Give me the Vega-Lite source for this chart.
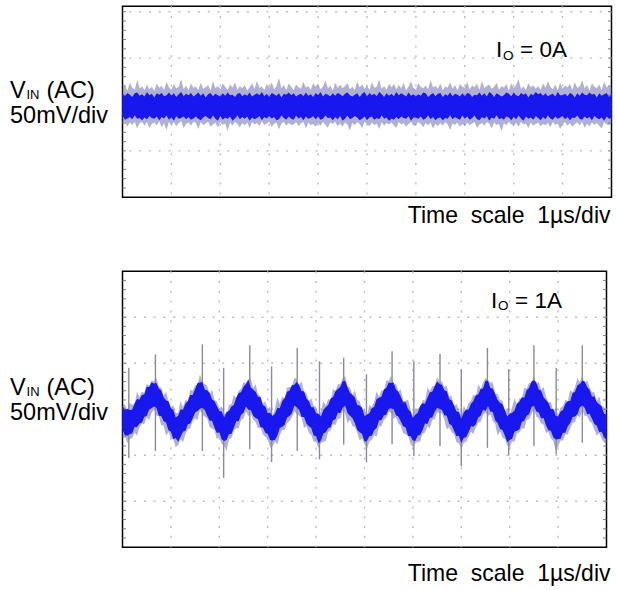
{
"$schema": "https://vega.github.io/schema/vega-lite/v6.json",
"background": "white",
"padding": {"left": 8.5, "top": 4.2, "right": 0, "bottom": 0},
"bounds": "flush",
"spacing": 74,
"config": {
 "view": {"stroke": "#000000", "strokeWidth": 1.5},
 "text": {"font": "Liberation Sans", "color": "#000000", "align": "left", "baseline": "alphabetic"}
},
"datasets": {
"gx": [{"g":1},{"g":2},{"g":3},{"g":4},{"g":5},{"g":6},{"g":7},{"g":8},{"g":9}],
"gyt": [{"g":-1},{"g":0},{"g":1},{"g":2}],
"gyb": [{"g":-2},{"g":-1},{"g":0},{"g":1},{"g":2}],
"mt": [{"g":-1.8},{"g":-1.6},{"g":-1.4},{"g":-1.2},{"g":-1},{"g":-0.8},{"g":-0.6},{"g":-0.4},{"g":-0.2},{"g":0},{"g":0.2},{"g":0.4},{"g":0.6},{"g":0.8},{"g":1},{"g":1.2},{"g":1.4},{"g":1.6},{"g":1.8},{"g":2}],
"mb": [{"g":-2.8},{"g":-2.6},{"g":-2.4},{"g":-2.2},{"g":-2},{"g":-1.8},{"g":-1.6},{"g":-1.4},{"g":-1.2},{"g":-1},{"g":-0.8},{"g":-0.6},{"g":-0.4},{"g":-0.2},{"g":0},{"g":0.2},{"g":0.4},{"g":0.6},{"g":0.8},{"g":1},{"g":1.2},{"g":1.4},{"g":1.6},{"g":1.8},{"g":2},{"g":2.2},{"g":2.4},{"g":2.6},{"g":2.8}],
"top": [
{"t":0,"a":-0.24,"b":0.23,"c":-0.41,"d":0.34},{"t":0.05,"a":-0.33,"b":0.18,"c":-0.36,"d":0.41},{"t":0.1,"a":-0.30,"b":0.25,"c":-0.48,"d":0.30},{"t":0.15,"a":-0.27,"b":0.21,"c":-0.39,"d":0.47},{"t":0.2,"a":-0.32,"b":0.16,"c":-0.44,"d":0.36},{"t":0.25,"a":-0.23,"b":0.24,"c":-0.37,"d":0.32},{"t":0.3,"a":-0.31,"b":0.26,"c":-0.52,"d":0.52},{"t":0.35,"a":-0.29,"b":0.19,"c":-0.40,"d":0.35},{"t":0.4,"a":-0.34,"b":0.22,"c":-0.38,"d":0.39},{"t":0.45,"a":-0.28,"b":0.17,"c":-0.46,"d":0.31},
{"t":0.5,"a":-0.32,"b":0.27,"c":-0.37,"d":0.43},{"t":0.55,"a":-0.25,"b":0.20,"c":-0.50,"d":0.33},{"t":0.6,"a":-0.29,"b":0.23,"c":-0.42,"d":0.38},{"t":0.65,"a":-0.31,"b":0.15,"c":-0.39,"d":0.29},{"t":0.7,"a":-0.26,"b":0.24,"c":-0.45,"d":0.45},{"t":0.75,"a":-0.34,"b":0.21,"c":-0.36,"d":0.36},{"t":0.8,"a":-0.27,"b":0.25,"c":-0.49,"d":0.40},{"t":0.85,"a":-0.30,"b":0.18,"c":-0.41,"d":0.31},{"t":0.9,"a":-0.24,"b":0.20,"c":-0.55,"d":0.49},{"t":0.95,"a":-0.33,"b":0.26,"c":-0.38,"d":0.37},
{"t":1.0,"a":-0.28,"b":0.19,"c":-0.44,"d":0.32},{"t":1.05,"a":-0.35,"b":0.24,"c":-0.38,"d":0.44},{"t":1.1,"a":-0.25,"b":0.16,"c":-0.47,"d":0.35},{"t":1.15,"a":-0.31,"b":0.22,"c":-0.40,"d":0.38},{"t":1.2,"a":-0.29,"b":0.27,"c":-0.36,"d":0.55},{"t":1.25,"a":-0.26,"b":0.18,"c":-0.51,"d":0.33},{"t":1.3,"a":-0.32,"b":0.23,"c":-0.42,"d":0.41},{"t":1.35,"a":-0.27,"b":0.20,"c":-0.39,"d":0.30},{"t":1.4,"a":-0.33,"b":0.25,"c":-0.46,"d":0.46},{"t":1.45,"a":-0.30,"b":0.17,"c":-0.37,"d":0.36},
{"t":1.5,"a":-0.26,"b":0.21,"c":-0.40,"d":0.39},{"t":1.55,"a":-0.31,"b":0.26,"c":-0.53,"d":0.31},{"t":1.6,"a":-0.34,"b":0.19,"c":-0.38,"d":0.47},{"t":1.65,"a":-0.28,"b":0.24,"c":-0.45,"d":0.34},{"t":1.7,"a":-0.25,"b":0.15,"c":-0.41,"d":0.37},{"t":1.75,"a":-0.29,"b":0.22,"c":-0.37,"d":0.42},{"t":1.8,"a":-0.32,"b":0.25,"c":-0.48,"d":0.30},{"t":1.85,"a":-0.24,"b":0.18,"c":-0.43,"d":0.50},{"t":1.9,"a":-0.31,"b":0.23,"c":-0.39,"d":0.35},{"t":1.95,"a":-0.35,"b":0.20,"c":-0.50,"d":0.40},
{"t":2.0,"a":-0.25,"b":0.17,"c":-0.38,"d":0.33},{"t":2.05,"a":-0.33,"b":0.24,"c":-0.44,"d":0.45},{"t":2.1,"a":-0.28,"b":0.19,"c":-0.41,"d":0.38},{"t":2.15,"a":-0.31,"b":0.26,"c":-0.57,"d":0.31},{"t":2.2,"a":-0.26,"b":0.20,"c":-0.39,"d":0.43},{"t":2.25,"a":-0.35,"b":0.21,"c":-0.46,"d":0.36},{"t":2.3,"a":-0.30,"b":0.16,"c":-0.37,"d":0.48},{"t":2.35,"a":-0.24,"b":0.23,"c":-0.42,"d":0.32},{"t":2.4,"a":-0.32,"b":0.25,"c":-0.49,"d":0.40},{"t":2.45,"a":-0.27,"b":0.18,"c":-0.40,"d":0.35},
{"t":2.5,"a":-0.31,"b":0.22,"c":-0.45,"d":0.42},{"t":2.55,"a":-0.26,"b":0.19,"c":-0.39,"d":0.30},{"t":2.6,"a":-0.35,"b":0.26,"c":-0.51,"d":0.37},{"t":2.65,"a":-0.28,"b":0.17,"c":-0.38,"d":0.46},{"t":2.7,"a":-0.32,"b":0.21,"c":-0.43,"d":0.34},{"t":2.75,"a":-0.29,"b":0.24,"c":-0.40,"d":0.51},{"t":2.8,"a":-0.25,"b":0.20,"c":-0.47,"d":0.36},{"t":2.85,"a":-0.34,"b":0.27,"c":-0.36,"d":0.39},{"t":2.9,"a":-0.27,"b":0.18,"c":-0.44,"d":0.31},{"t":2.95,"a":-0.30,"b":0.23,"c":-0.41,"d":0.44},
{"t":3.0,"a":-0.25,"b":0.16,"c":-0.37,"d":0.36},{"t":3.05,"a":-0.30,"b":0.25,"c":-0.48,"d":0.48},{"t":3.1,"a":-0.27,"b":0.22,"c":-0.42,"d":0.33},{"t":3.15,"a":-0.34,"b":0.19,"c":-0.39,"d":0.40},{"t":3.2,"a":-0.32,"b":0.24,"c":-0.54,"d":0.57},{"t":3.25,"a":-0.24,"b":0.15,"c":-0.41,"d":0.35},{"t":3.3,"a":-0.29,"b":0.23,"c":-0.38,"d":0.42},{"t":3.35,"a":-0.33,"b":0.21,"c":-0.46,"d":0.31},{"t":3.4,"a":-0.26,"b":0.26,"c":-0.40,"d":0.45},{"t":3.45,"a":-0.31,"b":0.20,"c":-0.44,"d":0.38},
{"t":3.5,"a":-0.33,"b":0.24,"c":-0.43,"d":0.31},{"t":3.55,"a":-0.24,"b":0.17,"c":-0.38,"d":0.43},{"t":3.6,"a":-0.30,"b":0.21,"c":-0.47,"d":0.37},{"t":3.65,"a":-0.27,"b":0.23,"c":-0.41,"d":0.34},{"t":3.7,"a":-0.34,"b":0.18,"c":-0.37,"d":0.49},{"t":3.75,"a":-0.26,"b":0.26,"c":-0.52,"d":0.36},{"t":3.8,"a":-0.31,"b":0.19,"c":-0.39,"d":0.40},{"t":3.85,"a":-0.29,"b":0.22,"c":-0.45,"d":0.32},{"t":3.9,"a":-0.25,"b":0.16,"c":-0.42,"d":0.46},{"t":3.95,"a":-0.32,"b":0.25,"c":-0.48,"d":0.39},
{"t":4.0,"a":-0.26,"b":0.20,"c":-0.40,"d":0.44},{"t":4.05,"a":-0.33,"b":0.27,"c":-0.46,"d":0.33},{"t":4.1,"a":-0.31,"b":0.17,"c":-0.38,"d":0.38},{"t":4.15,"a":-0.24,"b":0.23,"c":-0.44,"d":0.52},{"t":4.2,"a":-0.29,"b":0.21,"c":-0.50,"d":0.35},{"t":4.25,"a":-0.28,"b":0.18,"c":-0.39,"d":0.41},{"t":4.3,"a":-0.34,"b":0.24,"c":-0.42,"d":0.30},{"t":4.35,"a":-0.27,"b":0.19,"c":-0.37,"d":0.47},{"t":4.4,"a":-0.32,"b":0.25,"c":-0.47,"d":0.36},{"t":4.45,"a":-0.25,"b":0.22,"c":-0.41,"d":0.42},
{"t":4.5,"a":-0.35,"b":0.18,"c":-0.48,"d":0.35},{"t":4.55,"a":-0.31,"b":0.23,"c":-0.39,"d":0.40},{"t":4.6,"a":-0.24,"b":0.26,"c":-0.43,"d":0.46},{"t":4.65,"a":-0.32,"b":0.20,"c":-0.56,"d":0.33},{"t":4.7,"a":-0.29,"b":0.17,"c":-0.40,"d":0.38},{"t":4.75,"a":-0.25,"b":0.21,"c":-0.45,"d":0.31},{"t":4.8,"a":-0.28,"b":0.24,"c":-0.38,"d":0.49},{"t":4.85,"a":-0.34,"b":0.16,"c":-0.42,"d":0.37},{"t":4.9,"a":-0.31,"b":0.23,"c":-0.51,"d":0.43},{"t":4.95,"a":-0.26,"b":0.27,"c":-0.37,"d":0.34},
{"t":5.0,"a":-0.34,"b":0.17,"c":-0.42,"d":0.41},{"t":5.05,"a":-0.28,"b":0.25,"c":-0.47,"d":0.32},{"t":5.1,"a":-0.26,"b":0.20,"c":-0.39,"d":0.48},{"t":5.15,"a":-0.33,"b":0.23,"c":-0.44,"d":0.36},{"t":5.2,"a":-0.29,"b":0.18,"c":-0.41,"d":0.39},{"t":5.25,"a":-0.32,"b":0.27,"c":-0.53,"d":0.54},{"t":5.3,"a":-0.23,"b":0.22,"c":-0.38,"d":0.34},{"t":5.35,"a":-0.31,"b":0.16,"c":-0.46,"d":0.40},{"t":5.4,"a":-0.28,"b":0.24,"c":-0.40,"d":0.31},{"t":5.45,"a":-0.35,"b":0.19,"c":-0.43,"d":0.45},
{"t":5.5,"a":-0.30,"b":0.23,"c":-0.39,"d":0.37},{"t":5.55,"a":-0.33,"b":0.18,"c":-0.45,"d":0.44},{"t":5.6,"a":-0.27,"b":0.27,"c":-0.50,"d":0.33},{"t":5.65,"a":-0.32,"b":0.20,"c":-0.38,"d":0.42},{"t":5.7,"a":-0.26,"b":0.24,"c":-0.43,"d":0.35},{"t":5.75,"a":-0.29,"b":0.21,"c":-0.40,"d":0.47},{"t":5.8,"a":-0.31,"b":0.17,"c":-0.48,"d":0.30},{"t":5.85,"a":-0.25,"b":0.26,"c":-0.42,"d":0.39},{"t":5.9,"a":-0.35,"b":0.19,"c":-0.37,"d":0.50},{"t":5.95,"a":-0.28,"b":0.22,"c":-0.46,"d":0.36},
{"t":6.0,"a":-0.28,"b":0.17,"c":-0.44,"d":0.32},{"t":6.05,"a":-0.31,"b":0.22,"c":-0.38,"d":0.46},{"t":6.1,"a":-0.26,"b":0.19,"c":-0.42,"d":0.38},{"t":6.15,"a":-0.33,"b":0.26,"c":-0.49,"d":0.35},{"t":6.2,"a":-0.30,"b":0.24,"c":-0.40,"d":0.41},{"t":6.25,"a":-0.23,"b":0.16,"c":-0.45,"d":0.33},{"t":6.3,"a":-0.32,"b":0.21,"c":-0.39,"d":0.53},{"t":6.35,"a":-0.27,"b":0.25,"c":-0.52,"d":0.37},{"t":6.4,"a":-0.34,"b":0.18,"c":-0.41,"d":0.40},{"t":6.45,"a":-0.29,"b":0.23,"c":-0.47,"d":0.34},
{"t":6.5,"a":-0.28,"b":0.25,"c":-0.40,"d":0.45},{"t":6.55,"a":-0.34,"b":0.16,"c":-0.46,"d":0.31},{"t":6.6,"a":-0.29,"b":0.22,"c":-0.38,"d":0.39},{"t":6.65,"a":-0.31,"b":0.19,"c":-0.43,"d":0.36},{"t":6.7,"a":-0.23,"b":0.26,"c":-0.55,"d":0.48},{"t":6.75,"a":-0.32,"b":0.18,"c":-0.41,"d":0.34},{"t":6.8,"a":-0.27,"b":0.23,"c":-0.44,"d":0.42},{"t":6.85,"a":-0.30,"b":0.21,"c":-0.39,"d":0.30},{"t":6.9,"a":-0.33,"b":0.17,"c":-0.48,"d":0.44},{"t":6.95,"a":-0.24,"b":0.24,"c":-0.42,"d":0.38},
{"t":7.0,"a":-0.31,"b":0.18,"c":-0.47,"d":0.36},{"t":7.05,"a":-0.26,"b":0.25,"c":-0.39,"d":0.49},{"t":7.1,"a":-0.33,"b":0.23,"c":-0.45,"d":0.33},{"t":7.15,"a":-0.29,"b":0.16,"c":-0.41,"d":0.41},{"t":7.2,"a":-0.24,"b":0.21,"c":-0.38,"d":0.37},{"t":7.25,"a":-0.32,"b":0.20,"c":-0.50,"d":0.45},{"t":7.3,"a":-0.34,"b":0.26,"c":-0.43,"d":0.31},{"t":7.35,"a":-0.27,"b":0.19,"c":-0.40,"d":0.51},{"t":7.4,"a":-0.30,"b":0.24,"c":-0.46,"d":0.35},{"t":7.45,"a":-0.25,"b":0.17,"c":-0.38,"d":0.40},
{"t":7.5,"a":-0.35,"b":0.27,"c":-0.41,"d":0.43},{"t":7.55,"a":-0.28,"b":0.23,"c":-0.52,"d":0.34},{"t":7.6,"a":-0.31,"b":0.16,"c":-0.39,"d":0.38},{"t":7.65,"a":-0.23,"b":0.24,"c":-0.44,"d":0.47},{"t":7.7,"a":-0.32,"b":0.21,"c":-0.42,"d":0.32},{"t":7.75,"a":-0.29,"b":0.17,"c":-0.58,"d":0.40},{"t":7.8,"a":-0.33,"b":0.20,"c":-0.40,"d":0.36},{"t":7.85,"a":-0.26,"b":0.26,"c":-0.45,"d":0.44},{"t":7.9,"a":-0.28,"b":0.23,"c":-0.38,"d":0.30},{"t":7.95,"a":-0.34,"b":0.18,"c":-0.43,"d":0.46},
{"t":8.0,"a":-0.27,"b":0.26,"c":-0.45,"d":0.35},{"t":8.05,"a":-0.32,"b":0.20,"c":-0.40,"d":0.42},{"t":8.1,"a":-0.24,"b":0.18,"c":-0.48,"d":0.55},{"t":8.15,"a":-0.30,"b":0.25,"c":-0.38,"d":0.33},{"t":8.2,"a":-0.35,"b":0.21,"c":-0.43,"d":0.39},{"t":8.25,"a":-0.26,"b":0.24,"c":-0.41,"d":0.31},{"t":8.3,"a":-0.31,"b":0.15,"c":-0.51,"d":0.46},{"t":8.35,"a":-0.28,"b":0.23,"c":-0.39,"d":0.37},{"t":8.4,"a":-0.33,"b":0.20,"c":-0.46,"d":0.41},{"t":8.45,"a":-0.25,"b":0.27,"c":-0.42,"d":0.34},
{"t":8.5,"a":-0.29,"b":0.22,"c":-0.39,"d":0.40},{"t":8.55,"a":-0.34,"b":0.25,"c":-0.47,"d":0.32},{"t":8.6,"a":-0.27,"b":0.19,"c":-0.42,"d":0.45},{"t":8.65,"a":-0.32,"b":0.24,"c":-0.45,"d":0.36},{"t":8.7,"a":-0.23,"b":0.18,"c":-0.40,"d":0.50},{"t":8.75,"a":-0.30,"b":0.21,"c":-0.49,"d":0.38},{"t":8.8,"a":-0.33,"b":0.23,"c":-0.38,"d":0.33},{"t":8.85,"a":-0.26,"b":0.17,"c":-0.44,"d":0.43},{"t":8.9,"a":-0.31,"b":0.27,"c":-0.41,"d":0.31},{"t":8.95,"a":-0.28,"b":0.20,"c":-0.53,"d":0.47},
{"t":9.0,"a":-0.25,"b":0.20,"c":-0.43,"d":0.34},{"t":9.05,"a":-0.32,"b":0.23,"c":-0.38,"d":0.41},{"t":9.1,"a":-0.27,"b":0.18,"c":-0.46,"d":0.37},{"t":9.15,"a":-0.34,"b":0.25,"c":-0.40,"d":0.44},{"t":9.2,"a":-0.28,"b":0.22,"c":-0.48,"d":0.32},{"t":9.25,"a":-0.29,"b":0.15,"c":-0.42,"d":0.48},{"t":9.3,"a":-0.24,"b":0.24,"c":-0.39,"d":0.36},{"t":9.35,"a":-0.31,"b":0.19,"c":-0.45,"d":0.39},{"t":9.4,"a":-0.33,"b":0.26,"c":-0.37,"d":0.52},{"t":9.45,"a":-0.26,"b":0.21,"c":-0.50,"d":0.35},
{"t":9.5,"a":-0.30,"b":0.20,"c":-0.41,"d":0.42},{"t":9.55,"a":-0.27,"b":0.26,"c":-0.47,"d":0.30},{"t":9.6,"a":-0.34,"b":0.21,"c":-0.39,"d":0.46},{"t":9.65,"a":-0.25,"b":0.23,"c":-0.44,"d":0.38},{"t":9.7,"a":-0.29,"b":0.15,"c":-0.40,"d":0.35},{"t":9.75,"a":-0.32,"b":0.24,"c":-0.46,"d":0.43},{"t":9.8,"a":-0.28,"b":0.19,"c":-0.52,"d":0.31},{"t":9.85,"a":-0.35,"b":0.22,"c":-0.38,"d":0.49},{"t":9.9,"a":-0.26,"b":0.25,"c":-0.43,"d":0.37},{"t":9.95,"a":-0.31,"b":0.16,"c":-0.45,"d":0.40},
{"t":10,"a":-0.29,"b":0.22,"c":-0.40,"d":0.36}
],
"bot": [
{"t":0,"a":-0.44,"b":0.07,"c":-0.59,"d":0.08},{"t":0.05,"a":-0.57,"b":-0.02,"c":-0.58,"d":0.11},{"t":0.1,"a":-0.58,"b":0.01,"c":-0.74,"d":-0.04},{"t":0.15,"a":-0.54,"b":-0.02,"c":-0.64,"d":0.14},{"t":0.2,"a":-0.53,"b":-0.01,"c":-0.63,"d":0.09},{"t":0.25,"a":-0.38,"b":0.13,"c":-0.50,"d":0.11},{"t":0.3,"a":-0.39,"b":0.22,"c":-0.58,"d":0.38},{"t":0.35,"a":-0.31,"b":0.21,"c":-0.40,"d":0.27},{"t":0.4,"a":-0.29,"b":0.31,"c":-0.31,"d":0.38},{"t":0.45,"a":-0.17,"b":0.32,"c":-0.33,"d":0.36},
{"t":0.5,"a":-0.14,"b":0.49,"c":-0.17,"d":0.55},{"t":0.55,"a":-0.01,"b":0.48,"c":-0.24,"d":0.51},{"t":0.6,"a":0.02,"b":0.58,"c":-0.09,"d":0.63},{"t":0.65,"a":0.06,"b":0.56,"c":0.00,"d":0.60},{"t":0.7,"a":0.03,"b":0.57,"c":-0.14,"d":0.68},{"t":0.75,"a":-0.14,"b":0.45,"c":-0.14,"d":0.50},{"t":0.8,"a":-0.15,"b":0.41,"c":-0.35,"d":0.46},{"t":0.85,"a":-0.26,"b":0.26,"c":-0.35,"d":0.29},{"t":0.9,"a":-0.29,"b":0.19,"c":-0.58,"d":0.38},{"t":0.95,"a":-0.46,"b":0.17,"c":-0.49,"d":0.18},
{"t":1.0,"a":-0.49,"b":0.02,"c":-0.63,"d":0.05},{"t":1.05,"a":-0.65,"b":-0.02,"c":-0.66,"d":0.08},{"t":1.1,"a":-0.63,"b":-0.18,"c":-0.83,"d":-0.09},{"t":1.15,"a":-0.71,"b":-0.14,"c":-0.78,"d":-0.08},{"t":1.2,"a":-0.60,"b":0.00,"c":-0.65,"d":0.18},{"t":1.25,"a":-0.49,"b":-0.01,"c":-0.72,"d":0.04},{"t":1.3,"a":-0.47,"b":0.12,"c":-0.55,"d":0.20},{"t":1.35,"a":-0.33,"b":0.18,"c":-0.43,"d":0.18},{"t":1.4,"a":-0.31,"b":0.31,"c":-0.42,"d":0.42},{"t":1.45,"a":-0.20,"b":0.31,"c":-0.25,"d":0.40},
{"t":1.5,"a":-0.07,"b":0.44,"c":-0.19,"d":0.52},{"t":1.55,"a":-0.04,"b":0.57,"c":-0.24,"d":0.52},{"t":1.6,"a":0.01,"b":0.58,"c":-0.01,"d":0.76},{"t":1.65,"a":0.03,"b":0.59,"c":-0.12,"d":0.59},{"t":1.7,"a":-0.02,"b":0.42,"c":-0.16,"d":0.54},{"t":1.75,"a":-0.14,"b":0.41,"c":-0.20,"d":0.51},{"t":1.8,"a":-0.25,"b":0.36,"c":-0.39,"d":0.31},{"t":1.85,"a":-0.25,"b":0.21,"c":-0.42,"d":0.43},{"t":1.9,"a":-0.40,"b":0.18,"c":-0.46,"d":0.20},{"t":1.95,"a":-0.52,"b":0.07,"c":-0.65,"d":0.17},
{"t":2.0,"a":-0.50,"b":-0.04,"c":-0.61,"d":0.02},{"t":2.05,"a":-0.66,"b":-0.05,"c":-0.75,"d":0.06},{"t":2.1,"a":-0.69,"b":-0.18,"c":-0.80,"d":-0.09},{"t":2.15,"a":-0.67,"b":-0.06,"c":-0.91,"d":-0.11},{"t":2.2,"a":-0.54,"b":-0.04,"c":-0.65,"d":0.09},{"t":2.25,"a":-0.54,"b":0.06,"c":-0.63,"d":0.11},{"t":2.3,"a":-0.41,"b":0.09,"c":-0.46,"d":0.31},{"t":2.35,"a":-0.26,"b":0.25,"c":-0.42,"d":0.24},{"t":2.4,"a":-0.26,"b":0.35,"c":-0.41,"d":0.40},{"t":2.45,"a":-0.12,"b":0.37,"c":-0.23,"d":0.44},
{"t":2.5,"a":-0.08,"b":0.49,"c":-0.20,"d":0.59},{"t":2.55,"a":0.06,"b":0.55,"c":-0.05,"d":0.56},{"t":2.6,"a":-0.01,"b":0.64,"c":-0.15,"d":0.65},{"t":2.65,"a":-0.02,"b":0.47,"c":-0.10,"d":0.66},{"t":2.7,"a":-0.14,"b":0.43,"c":-0.23,"d":0.46},{"t":2.75,"a":-0.19,"b":0.38,"c":-0.28,"d":0.55},{"t":2.8,"a":-0.22,"b":0.27,"c":-0.42,"d":0.33},{"t":2.85,"a":-0.39,"b":0.26,"c":-0.39,"d":0.28},{"t":2.9,"a":-0.40,"b":0.09,"c":-0.55,"d":0.12},{"t":2.95,"a":-0.51,"b":0.06,"c":-0.60,"d":0.17},
{"t":3.0,"a":-0.54,"b":-0.09,"c":-0.64,"d":0.01},{"t":3.05,"a":-0.67,"b":-0.08,"c":-0.83,"d":0.05},{"t":3.1,"a":-0.68,"b":-0.15,"c":-0.81,"d":-0.14},{"t":3.15,"a":-0.67,"b":-0.10,"c":-0.70,"d":0.01},{"t":3.2,"a":-0.57,"b":0.03,"c":-0.77,"d":0.26},{"t":3.25,"a":-0.41,"b":0.02,"c":-0.56,"d":0.12},{"t":3.3,"a":-0.38,"b":0.18,"c":-0.45,"d":0.27},{"t":3.35,"a":-0.34,"b":0.24,"c":-0.45,"d":0.24},{"t":3.4,"a":-0.18,"b":0.38,"c":-0.30,"d":0.47},{"t":3.45,"a":-0.15,"b":0.40,"c":-0.26,"d":0.48},
{"t":3.5,"a":-0.09,"b":0.52,"c":-0.17,"d":0.49},{"t":3.55,"a":0.08,"b":0.53,"c":-0.04,"d":0.69},{"t":3.6,"a":0.04,"b":0.59,"c":-0.11,"d":0.65},{"t":3.65,"a":-0.02,"b":0.52,"c":-0.14,"d":0.53},{"t":3.7,"a":-0.17,"b":0.39,"c":-0.18,"d":0.60},{"t":3.75,"a":-0.17,"b":0.39,"c":-0.41,"d":0.39},{"t":3.8,"a":-0.31,"b":0.23,"c":-0.37,"d":0.34},{"t":3.85,"a":-0.37,"b":0.18,"c":-0.51,"d":0.18},{"t":3.9,"a":-0.41,"b":0.04,"c":-0.56,"d":0.24},{"t":3.95,"a":-0.57,"b":0.04,"c":-0.71,"d":0.08},
{"t":4.0,"a":-0.59,"b":-0.09,"c":-0.71,"d":0.05},{"t":4.05,"a":-0.74,"b":-0.10,"c":-0.85,"d":-0.14},{"t":4.1,"a":-0.68,"b":-0.16,"c":-0.73,"d":-0.05},{"t":4.15,"a":-0.53,"b":-0.02,"c":-0.71,"d":0.17},{"t":4.2,"a":-0.50,"b":0.04,"c":-0.69,"d":0.08},{"t":4.25,"a":-0.41,"b":0.09,"c":-0.50,"d":0.22},{"t":4.3,"a":-0.39,"b":0.23,"c":-0.45,"d":0.19},{"t":4.35,"a":-0.24,"b":0.26,"c":-0.32,"d":0.44},{"t":4.4,"a":-0.22,"b":0.39,"c":-0.35,"d":0.40},{"t":4.45,"a":-0.07,"b":0.44,"c":-0.21,"d":0.54},
{"t":4.5,"a":-0.09,"b":0.48,"c":-0.20,"d":0.55},{"t":4.55,"a":0.03,"b":0.61,"c":-0.03,"d":0.68},{"t":4.6,"a":0.08,"b":0.62,"c":-0.09,"d":0.72},{"t":4.65,"a":-0.09,"b":0.47,"c":-0.31,"d":0.50},{"t":4.7,"a":-0.14,"b":0.36,"c":-0.23,"d":0.47},{"t":4.75,"a":-0.19,"b":0.31,"c":-0.37,"d":0.31},{"t":4.8,"a":-0.30,"b":0.26,"c":-0.38,"d":0.41},{"t":4.85,"a":-0.45,"b":0.09,"c":-0.51,"d":0.20},{"t":4.9,"a":-0.50,"b":0.08,"c":-0.68,"d":0.18},{"t":4.95,"a":-0.54,"b":0.03,"c":-0.63,"d":0.00},
{"t":5.0,"a":-0.70,"b":-0.15,"c":-0.76,"d":-0.01},{"t":5.05,"a":-0.69,"b":-0.12,"c":-0.86,"d":-0.15},{"t":5.1,"a":-0.59,"b":-0.09,"c":-0.70,"d":0.09},{"t":5.15,"a":-0.58,"b":0.02,"c":-0.67,"d":0.05},{"t":5.2,"a":-0.46,"b":0.05,"c":-0.56,"d":0.16},{"t":5.25,"a":-0.41,"b":0.22,"c":-0.60,"d":0.39},{"t":5.3,"a":-0.24,"b":0.25,"c":-0.37,"d":0.27},{"t":5.35,"a":-0.24,"b":0.27,"c":-0.37,"d":0.41},{"t":5.4,"a":-0.13,"b":0.43,"c":-0.23,"d":0.40},{"t":5.45,"a":-0.12,"b":0.46,"c":-0.18,"d":0.62},
{"t":5.5,"a":0.01,"b":0.58,"c":-0.06,"d":0.62},{"t":5.55,"a":0.02,"b":0.57,"c":-0.08,"d":0.73},{"t":5.6,"a":0.00,"b":0.58,"c":-0.21,"d":0.54},{"t":5.65,"a":-0.13,"b":0.43,"c":-0.17,"d":0.55},{"t":5.7,"a":-0.16,"b":0.38,"c":-0.31,"d":0.39},{"t":5.75,"a":-0.27,"b":0.27,"c":-0.36,"d":0.43},{"t":5.8,"a":-0.37,"b":0.15,"c":-0.52,"d":0.18},{"t":5.85,"a":-0.40,"b":0.15,"c":-0.55,"d":0.18},{"t":5.9,"a":-0.58,"b":0.00,"c":-0.58,"d":0.21},{"t":5.95,"a":-0.59,"b":-0.05,"c":-0.75,"d":-0.01},
{"t":6.0,"a":-0.68,"b":-0.19,"c":-0.82,"d":-0.14},{"t":6.05,"a":-0.69,"b":-0.12,"c":-0.74,"d":0.02},{"t":6.1,"a":-0.57,"b":-0.08,"c":-0.71,"d":0.01},{"t":6.15,"a":-0.56,"b":0.07,"c":-0.70,"d":0.06},{"t":6.2,"a":-0.45,"b":0.13,"c":-0.53,"d":0.20},{"t":6.25,"a":-0.31,"b":0.12,"c":-0.51,"d":0.19},{"t":6.3,"a":-0.32,"b":0.25,"c":-0.37,"d":0.47},{"t":6.35,"a":-0.19,"b":0.37,"c":-0.42,"d":0.39},{"t":6.4,"a":-0.18,"b":0.38,"c":-0.23,"d":0.50},{"t":6.45,"a":-0.06,"b":0.50,"c":-0.22,"d":0.51},
{"t":6.5,"a":0.03,"b":0.60,"c":-0.07,"d":0.70},{"t":6.55,"a":0.01,"b":0.55,"c":-0.09,"d":0.60},{"t":6.6,"a":-0.02,"b":0.53,"c":-0.09,"d":0.60},{"t":6.65,"a":-0.13,"b":0.41,"c":-0.23,"d":0.48},{"t":6.7,"a":-0.14,"b":0.39,"c":-0.44,"d":0.51},{"t":6.75,"a":-0.32,"b":0.22,"c":-0.39,"d":0.28},{"t":6.8,"a":-0.35,"b":0.19,"c":-0.50,"d":0.28},{"t":6.85,"a":-0.47,"b":0.08,"c":-0.54,"d":0.07},{"t":6.9,"a":-0.59,"b":-0.05,"c":-0.72,"d":0.12},{"t":6.95,"a":-0.58,"b":-0.06,"c":-0.74,"d":-0.02},
{"t":7.0,"a":-0.74,"b":-0.21,"c":-0.88,"d":-0.13},{"t":7.05,"a":-0.62,"b":-0.07,"c":-0.73,"d":0.07},{"t":7.1,"a":-0.61,"b":-0.01,"c":-0.71,"d":-0.01},{"t":7.15,"a":-0.50,"b":-0.01,"c":-0.60,"d":0.14},{"t":7.2,"a":-0.37,"b":0.12,"c":-0.49,"d":0.18},{"t":7.25,"a":-0.38,"b":0.18,"c":-0.54,"d":0.33},{"t":7.3,"a":-0.33,"b":0.31,"c":-0.40,"d":0.26},{"t":7.35,"a":-0.18,"b":0.32,"c":-0.29,"d":0.54},{"t":7.4,"a":-0.14,"b":0.44,"c":-0.28,"d":0.45},{"t":7.45,"a":-0.01,"b":0.45,"c":-0.12,"d":0.58},
{"t":7.5,"a":-0.04,"b":0.62,"c":-0.08,"d":0.68},{"t":7.55,"a":0.07,"b":0.62,"c":-0.15,"d":0.63},{"t":7.6,"a":-0.05,"b":0.46,"c":-0.11,"d":0.58},{"t":7.65,"a":-0.06,"b":0.45,"c":-0.25,"d":0.58},{"t":7.7,"a":-0.24,"b":0.33,"c":-0.32,"d":0.34},{"t":7.75,"a":-0.30,"b":0.20,"c":-0.57,"d":0.33},{"t":7.8,"a":-0.43,"b":0.14,"c":-0.48,"d":0.20},{"t":7.85,"a":-0.45,"b":0.11,"c":-0.62,"d":0.19},{"t":7.9,"a":-0.57,"b":-0.02,"c":-0.65,"d":-0.05},{"t":7.95,"a":-0.72,"b":-0.16,"c":-0.79,"d":0.02},
{"t":8.0,"a":-0.67,"b":-0.10,"c":-0.83,"d":-0.11},{"t":8.05,"a":-0.64,"b":-0.08,"c":-0.70,"d":0.04},{"t":8.1,"a":-0.49,"b":-0.03,"c":-0.71,"d":0.24},{"t":8.15,"a":-0.47,"b":0.12,"c":-0.53,"d":0.10},{"t":8.2,"a":-0.44,"b":0.16,"c":-0.50,"d":0.24},{"t":8.25,"a":-0.28,"b":0.26,"c":-0.41,"d":0.23},{"t":8.3,"a":-0.25,"b":0.25,"c":-0.43,"d":0.46},{"t":8.35,"a":-0.14,"b":0.41,"c":-0.23,"d":0.45},{"t":8.4,"a":-0.11,"b":0.46,"c":-0.22,"d":0.57},{"t":8.45,"a":0.04,"b":0.60,"c":-0.11,"d":0.57},
{"t":8.5,"a":0.08,"b":0.63,"c":0.00,"d":0.71},{"t":8.55,"a":-0.05,"b":0.58,"c":-0.16,"d":0.55},{"t":8.6,"a":-0.07,"b":0.43,"c":-0.20,"d":0.59},{"t":8.65,"a":-0.20,"b":0.40,"c":-0.31,"d":0.42},{"t":8.7,"a":-0.19,"b":0.26,"c":-0.34,"d":0.48},{"t":8.75,"a":-0.35,"b":0.20,"c":-0.52,"d":0.27},{"t":8.8,"a":-0.46,"b":0.14,"c":-0.49,"d":0.14},{"t":8.85,"a":-0.47,"b":0.00,"c":-0.63,"d":0.16},{"t":8.9,"a":-0.61,"b":0.01,"c":-0.69,"d":-0.05},{"t":8.95,"a":-0.66,"b":-0.14,"c":-0.89,"d":0.03},
{"t":9.0,"a":-0.65,"b":-0.16,"c":-0.81,"d":-0.12},{"t":9.05,"a":-0.64,"b":-0.05,"c":-0.68,"d":0.03},{"t":9.1,"a":-0.51,"b":-0.02,"c":-0.68,"d":0.07},{"t":9.15,"a":-0.51,"b":0.12,"c":-0.55,"d":0.21},{"t":9.2,"a":-0.37,"b":0.17,"c":-0.55,"d":0.17},{"t":9.25,"a":-0.30,"b":0.18,"c":-0.41,"d":0.41},{"t":9.3,"a":-0.17,"b":0.35,"c":-0.30,"d":0.37},{"t":9.35,"a":-0.16,"b":0.38,"c":-0.28,"d":0.48},{"t":9.4,"a":-0.11,"b":0.52,"c":-0.13,"d":0.68},{"t":9.45,"a":0.04,"b":0.55,"c":-0.18,"d":0.59},
{"t":9.5,"a":0.08,"b":0.62,"c":-0.01,"d":0.74},{"t":9.55,"a":0.03,"b":0.60,"c":-0.15,"d":0.54},{"t":9.6,"a":-0.11,"b":0.48,"c":-0.14,"d":0.63},{"t":9.65,"a":-0.10,"b":0.42,"c":-0.27,"d":0.47},{"t":9.7,"a":-0.21,"b":0.27,"c":-0.30,"d":0.37},{"t":9.75,"a":-0.32,"b":0.28,"c":-0.44,"d":0.37},{"t":9.8,"a":-0.36,"b":0.15,"c":-0.58,"d":0.17},{"t":9.85,"a":-0.50,"b":0.11,"c":-0.51,"d":0.28},{"t":9.9,"a":-0.49,"b":0.06,"c":-0.64,"d":0.08},{"t":9.95,"a":-0.61,"b":-0.10,"c":-0.73,"d":0.04},
{"t":10,"a":-0.67,"b":-0.12,"c":-0.76,"d":-0.08}
],
"spk": [
{"t":0.13,"y1":0.90,"y2":-1.06},{"t":0.68,"y1":1.19,"y2":-0.91},{"t":1.65,"y1":1.41,"y2":-0.91},{"t":2.09,"y1":0.90,"y2":-1.49},{"t":2.63,"y1":1.39,"y2":-0.87},{"t":3.08,"y1":0.93,"y2":-1.15},{"t":3.61,"y1":1.33,"y2":-0.91},{"t":4.07,"y1":1.04,"y2":-1.09},{"t":4.57,"y1":1.12,"y2":-0.77},{"t":5.04,"y1":0.76,"y2":-1.15},{"t":5.57,"y1":1.26,"y2":-0.76},{"t":6.02,"y1":1.04,"y2":-1.02},{"t":6.56,"y1":1.20,"y2":-0.80},{"t":7.00,"y1":0.87,"y2":-1.24},{"t":7.54,"y1":1.33,"y2":-0.84},{"t":7.98,"y1":0.87,"y2":-1.00},{"t":8.50,"y1":1.39,"y2":-0.80},{"t":8.96,"y1":0.90,"y2":-0.98},{"t":9.50,"y1":1.39,"y2":-0.73}
]
},
"vconcat": [
{
 "width": 489, "height": 191,
 "layer": [
  {"data": {"name": "gx"}, "mark": {"type": "rule", "color": "#bbbbbb", "strokeWidth": 1.4, "strokeDash": [2, 7.8]},
   "encoding": {"x": {"field": "g", "type": "quantitative", "scale": {"domain": [0, 10], "nice": false, "zero": false}, "axis": null}}},
  {"data": {"name": "gyt"}, "mark": {"type": "rule", "color": "#bbbbbb", "strokeWidth": 1.4, "strokeDash": [2, 7.8]},
   "encoding": {"y": {"field": "g", "type": "quantitative", "scale": {"domain": [-2, 2.12], "nice": false, "zero": false}, "axis": null}}},
  {"data": {"name": "mt"}, "mark": {"type": "rule", "color": "#777777", "strokeWidth": 1},
   "encoding": {"x": {"datum": 0, "type": "quantitative", "scale": {"domain": [0, 10], "nice": false, "zero": false}, "axis": null}, "x2": {"datum": 0.07},
    "y": {"field": "g", "type": "quantitative", "scale": {"domain": [-2, 2.12], "nice": false, "zero": false}, "axis": null}}},
  {"data": {"name": "mt"}, "mark": {"type": "rule", "color": "#777777", "strokeWidth": 1},
   "encoding": {"x": {"datum": 9.93, "type": "quantitative", "scale": {"domain": [0, 10], "nice": false, "zero": false}, "axis": null}, "x2": {"datum": 10},
    "y": {"field": "g", "type": "quantitative", "scale": {"domain": [-2, 2.12], "nice": false, "zero": false}, "axis": null}}},
  {"data": {"name": "top"}, "mark": {"type": "area", "color": "#7070b2", "opacity": 0.55},
   "encoding": {
    "x": {"field": "t", "type": "quantitative", "scale": {"domain": [0, 10], "nice": false, "zero": false}, "axis": null},
    "y": {"field": "c", "type": "quantitative", "scale": {"domain": [-2, 2.12], "nice": false, "zero": false}, "axis": null},
    "y2": {"field": "d"}}},
  {"data": {"name": "top"}, "mark": {"type": "area", "color": "#1717ee"},
   "encoding": {
    "x": {"field": "t", "type": "quantitative", "scale": {"domain": [0, 10], "nice": false, "zero": false}, "axis": null},
    "y": {"field": "a", "type": "quantitative", "scale": {"domain": [-2, 2.12], "nice": false, "zero": false}, "axis": null},
    "y2": {"field": "b"}}},
  {"data": {"values": [{}]}, "mark": {"type": "text", "text": "V", "fontSize": 23.5},
   "encoding": {"x": {"datum": -2.3, "type": "quantitative", "scale": {"domain": [0, 10], "nice": false, "zero": false}, "axis": null}, "y": {"datum": 0.135, "type": "quantitative", "scale": {"domain": [-2, 2.12], "nice": false, "zero": false}, "axis": null}}},
  {"data": {"values": [{}]}, "mark": {"type": "text", "text": "IN", "fontSize": 13},
   "encoding": {"x": {"datum": -1.963, "type": "quantitative", "scale": {"domain": [0, 10], "nice": false, "zero": false}, "axis": null}, "y": {"datum": 0.114, "type": "quantitative", "scale": {"domain": [-2, 2.12], "nice": false, "zero": false}, "axis": null}}},
  {"data": {"values": [{}]}, "mark": {"type": "text", "text": "(AC)", "fontSize": 23.5},
   "encoding": {"x": {"datum": -1.554, "type": "quantitative", "scale": {"domain": [0, 10], "nice": false, "zero": false}, "axis": null}, "y": {"datum": 0.135, "type": "quantitative", "scale": {"domain": [-2, 2.12], "nice": false, "zero": false}, "axis": null}}},
  {"data": {"values": [{}]}, "mark": {"type": "text", "text": "50mV/div", "fontSize": 23.5},
   "encoding": {"x": {"datum": -2.3, "type": "quantitative", "scale": {"domain": [0, 10], "nice": false, "zero": false}, "axis": null}, "y": {"datum": -0.393, "type": "quantitative", "scale": {"domain": [-2, 2.12], "nice": false, "zero": false}, "axis": null}}},
  {"data": {"values": [{}]}, "mark": {"type": "text", "text": "I", "fontSize": 22.5},
   "encoding": {"x": {"datum": 7.638, "type": "quantitative", "scale": {"domain": [0, 10], "nice": false, "zero": false}, "axis": null}, "y": {"datum": 1.02, "type": "quantitative", "scale": {"domain": [-2, 2.12], "nice": false, "zero": false}, "axis": null}}},
  {"data": {"values": [{}]}, "mark": {"type": "text", "text": "O", "fontSize": 13.5},
   "encoding": {"x": {"datum": 7.781, "type": "quantitative", "scale": {"domain": [0, 10], "nice": false, "zero": false}, "axis": null}, "y": {"datum": 0.966, "type": "quantitative", "scale": {"domain": [-2, 2.12], "nice": false, "zero": false}, "axis": null}}},
  {"data": {"values": [{}]}, "mark": {"type": "text", "text": "= 0A", "fontSize": 22.5},
   "encoding": {"x": {"datum": 8.13, "type": "quantitative", "scale": {"domain": [0, 10], "nice": false, "zero": false}, "axis": null}, "y": {"datum": 1.02, "type": "quantitative", "scale": {"domain": [-2, 2.12], "nice": false, "zero": false}, "axis": null}}},
  {"data": {"values": [{}]}, "mark": {"type": "text", "text": "Time\u00a0 scale\u00a0 1µs/div", "fontSize": 23, "align": "right"},
   "encoding": {"x": {"datum": 9.98, "type": "quantitative", "scale": {"domain": [0, 10], "nice": false, "zero": false}, "axis": null}, "y": {"datum": -2.55, "type": "quantitative", "scale": {"domain": [-2, 2.12], "nice": false, "zero": false}, "axis": null}}}
 ]
},
{
 "width": 484, "height": 276,
 "layer": [
  {"data": {"name": "gx"}, "mark": {"type": "rule", "color": "#bbbbbb", "strokeWidth": 1.4, "strokeDash": [2, 7.8]},
   "encoding": {"x": {"field": "g", "type": "quantitative", "scale": {"domain": [0, 10], "nice": false, "zero": false}, "axis": null}}},
  {"data": {"name": "gyb"}, "mark": {"type": "rule", "color": "#bbbbbb", "strokeWidth": 1.4, "strokeDash": [2, 7.8]},
   "encoding": {"y": {"field": "g", "type": "quantitative", "scale": {"domain": [-3, 3], "nice": false, "zero": false}, "axis": null}}},
  {"data": {"name": "mb"}, "mark": {"type": "rule", "color": "#777777", "strokeWidth": 1},
   "encoding": {"x": {"datum": 0, "type": "quantitative", "scale": {"domain": [0, 10], "nice": false, "zero": false}, "axis": null}, "x2": {"datum": 0.07},
    "y": {"field": "g", "type": "quantitative", "scale": {"domain": [-3, 3], "nice": false, "zero": false}, "axis": null}}},
  {"data": {"name": "mb"}, "mark": {"type": "rule", "color": "#777777", "strokeWidth": 1},
   "encoding": {"x": {"datum": 9.93, "type": "quantitative", "scale": {"domain": [0, 10], "nice": false, "zero": false}, "axis": null}, "x2": {"datum": 10},
    "y": {"field": "g", "type": "quantitative", "scale": {"domain": [-3, 3], "nice": false, "zero": false}, "axis": null}}},
  {"data": {"name": "bot"}, "mark": {"type": "area", "color": "#7070b2", "opacity": 0.55},
   "encoding": {
    "x": {"field": "t", "type": "quantitative", "scale": {"domain": [0, 10], "nice": false, "zero": false}, "axis": null},
    "y": {"field": "c", "type": "quantitative", "scale": {"domain": [-3, 3], "nice": false, "zero": false}, "axis": null},
    "y2": {"field": "d"}}},
  {"data": {"name": "spk"}, "mark": {"type": "rule", "color": "#8a8a98", "strokeWidth": 1.4},
   "encoding": {
    "x": {"field": "t", "type": "quantitative", "scale": {"domain": [0, 10], "nice": false, "zero": false}, "axis": null},
    "y": {"field": "y1", "type": "quantitative", "scale": {"domain": [-3, 3], "nice": false, "zero": false}, "axis": null},
    "y2": {"field": "y2"}}},
  {"data": {"name": "bot"}, "mark": {"type": "area", "color": "#1717ee"},
   "encoding": {
    "x": {"field": "t", "type": "quantitative", "scale": {"domain": [0, 10], "nice": false, "zero": false}, "axis": null},
    "y": {"field": "a", "type": "quantitative", "scale": {"domain": [-3, 3], "nice": false, "zero": false}, "axis": null},
    "y2": {"field": "b"}}},
  {"data": {"values": [{}]}, "mark": {"type": "text", "text": "V", "fontSize": 23.5},
   "encoding": {"x": {"datum": -2.324, "type": "quantitative", "scale": {"domain": [0, 10], "nice": false, "zero": false}, "axis": null}, "y": {"datum": 0.304, "type": "quantitative", "scale": {"domain": [-3, 3], "nice": false, "zero": false}, "axis": null}}},
  {"data": {"values": [{}]}, "mark": {"type": "text", "text": "IN", "fontSize": 13},
   "encoding": {"x": {"datum": -1.983, "type": "quantitative", "scale": {"domain": [0, 10], "nice": false, "zero": false}, "axis": null}, "y": {"datum": 0.283, "type": "quantitative", "scale": {"domain": [-3, 3], "nice": false, "zero": false}, "axis": null}}},
  {"data": {"values": [{}]}, "mark": {"type": "text", "text": "(AC)", "fontSize": 23.5},
   "encoding": {"x": {"datum": -1.57, "type": "quantitative", "scale": {"domain": [0, 10], "nice": false, "zero": false}, "axis": null}, "y": {"datum": 0.304, "type": "quantitative", "scale": {"domain": [-3, 3], "nice": false, "zero": false}, "axis": null}}},
  {"data": {"values": [{}]}, "mark": {"type": "text", "text": "50mV/div", "fontSize": 23.5},
   "encoding": {"x": {"datum": -2.324, "type": "quantitative", "scale": {"domain": [0, 10], "nice": false, "zero": false}, "axis": null}, "y": {"datum": -0.239, "type": "quantitative", "scale": {"domain": [-3, 3], "nice": false, "zero": false}, "axis": null}}},
  {"data": {"values": [{}]}, "mark": {"type": "text", "text": "I", "fontSize": 22.5},
   "encoding": {"x": {"datum": 7.614, "type": "quantitative", "scale": {"domain": [0, 10], "nice": false, "zero": false}, "axis": null}, "y": {"datum": 2.207, "type": "quantitative", "scale": {"domain": [-3, 3], "nice": false, "zero": false}, "axis": null}}},
  {"data": {"values": [{}]}, "mark": {"type": "text", "text": "O", "fontSize": 13.5},
   "encoding": {"x": {"datum": 7.758, "type": "quantitative", "scale": {"domain": [0, 10], "nice": false, "zero": false}, "axis": null}, "y": {"datum": 2.152, "type": "quantitative", "scale": {"domain": [-3, 3], "nice": false, "zero": false}, "axis": null}}},
  {"data": {"values": [{}]}, "mark": {"type": "text", "text": "= 1A", "fontSize": 22.5},
   "encoding": {"x": {"datum": 8.11, "type": "quantitative", "scale": {"domain": [0, 10], "nice": false, "zero": false}, "axis": null}, "y": {"datum": 2.207, "type": "quantitative", "scale": {"domain": [-3, 3], "nice": false, "zero": false}, "axis": null}}},
  {"data": {"values": [{}]}, "mark": {"type": "text", "text": "Time\u00a0 scale\u00a0 1µs/div", "fontSize": 23, "align": "right"},
   "encoding": {"x": {"datum": 10.083, "type": "quantitative", "scale": {"domain": [0, 10], "nice": false, "zero": false}, "axis": null}, "y": {"datum": -3.728, "type": "quantitative", "scale": {"domain": [-3, 3], "nice": false, "zero": false}, "axis": null}}}
 ]
}
]
}
